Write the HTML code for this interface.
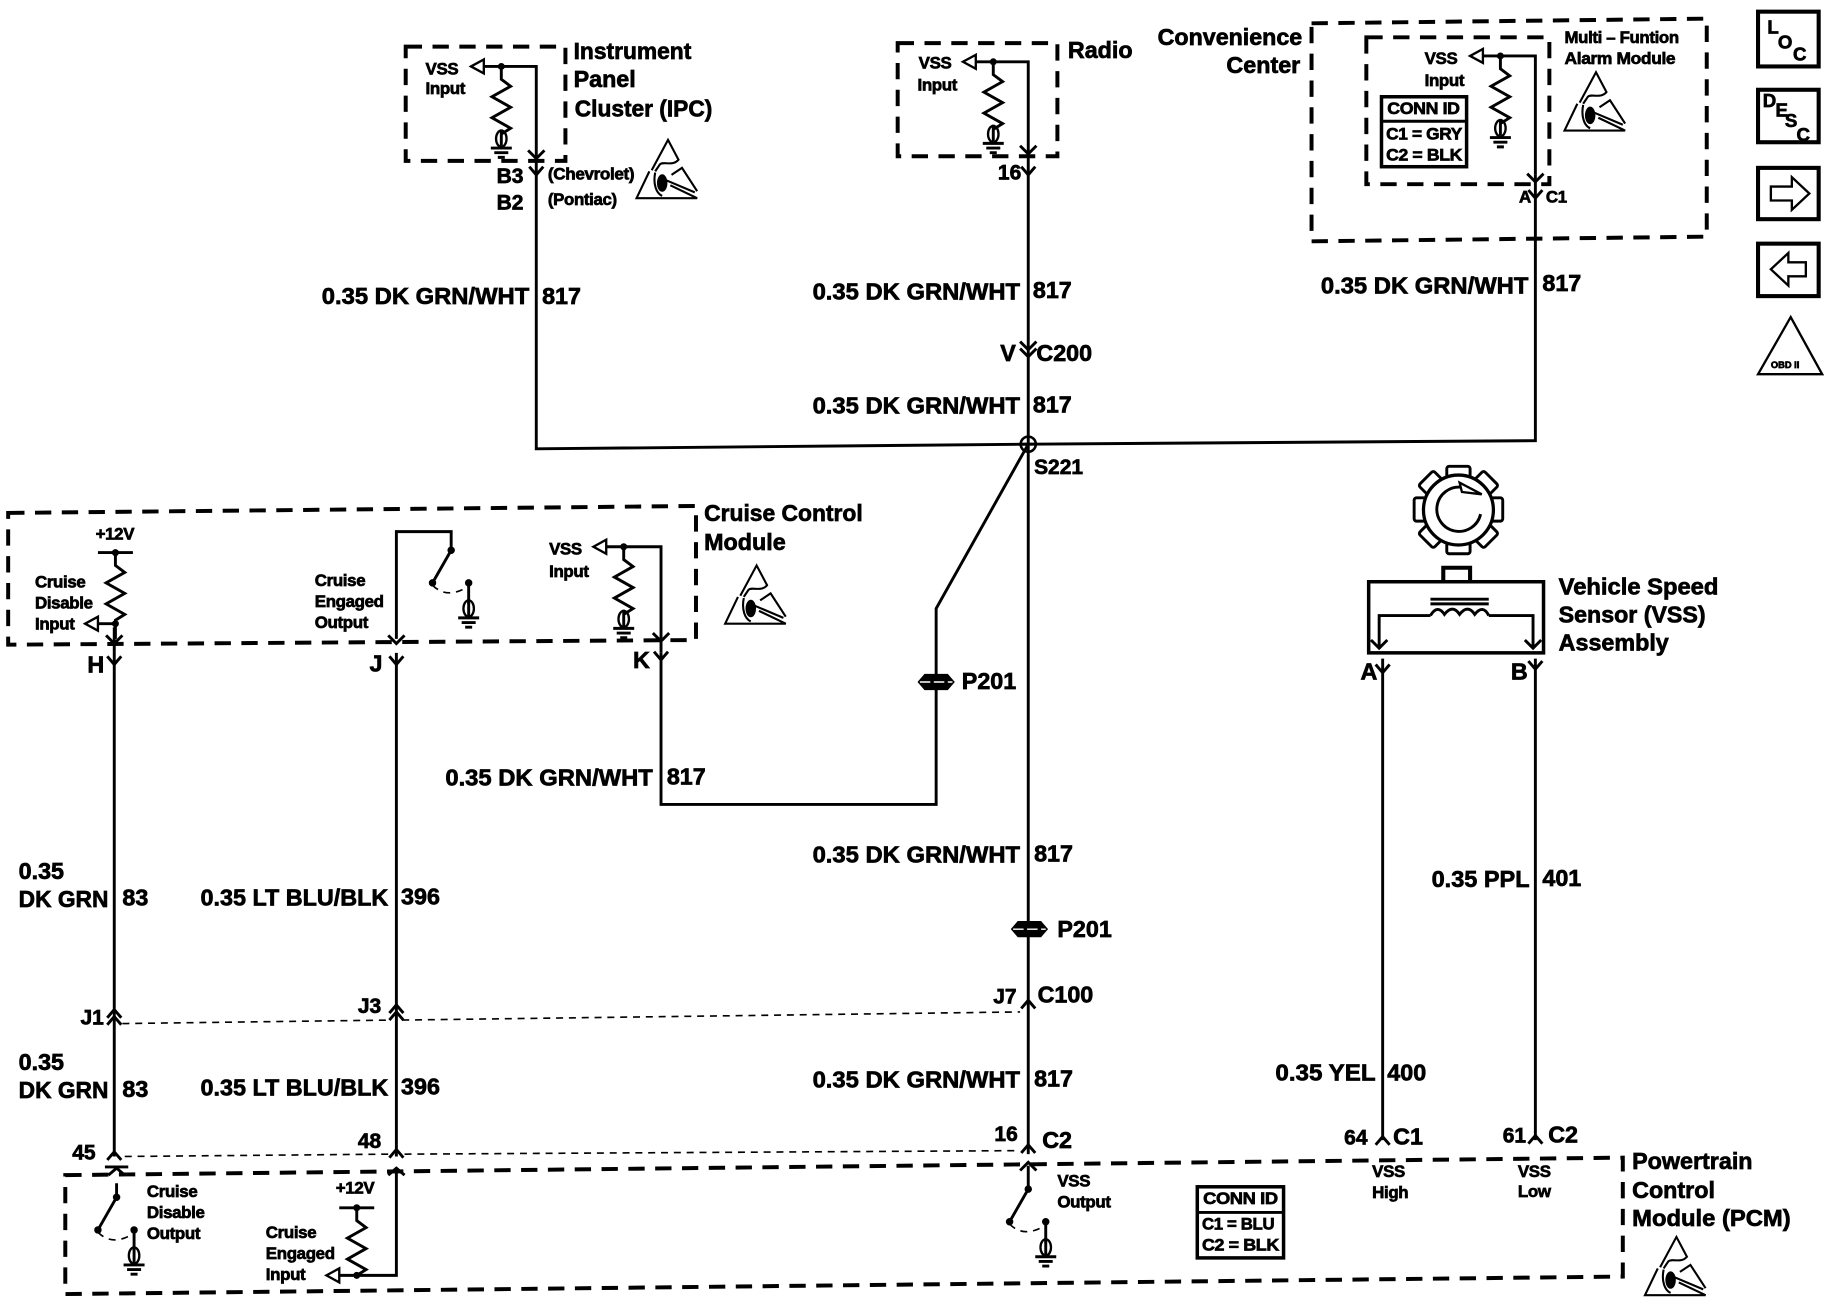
<!DOCTYPE html>
<html><head><meta charset="utf-8"><title>VSS wiring diagram</title>
<style>
html,body{margin:0;padding:0;background:#fff}
svg{display:block}
text{font-family:"Liberation Sans",sans-serif;font-weight:bold;fill:#000;stroke:#000;stroke-width:.6;transform:translateY(-1.2px)}
.a{font-size:20px}
.b{font-size:18px}
.s{font-size:14.5px;letter-spacing:-.3px}
.w{fill:none;stroke:#000;stroke-width:2.5}
.d{fill:none;stroke:#000;stroke-width:3.4;stroke-dasharray:14 9}
.t{fill:none;stroke:#000;stroke-width:1.4;stroke-dasharray:6 5}
.i{fill:none;stroke:#000;stroke-width:3.5}
</style></head>
<body>
<svg xmlns="http://www.w3.org/2000/svg" width="1828" height="1312" viewBox="0 0 1568 1125.4">
<defs>
<g id="gnd"><path class="w" d="M0,-14V0"/><ellipse cx="0" cy="-6" rx="4.5" ry="7" fill="none" stroke="#000" stroke-width="2"/><path class="w" d="M-9,2H9M-6,6H6M-3,10H3"/></g>
<g id="rg"><circle r="3"/><path class="w" d="M0,0V11L8,17L-8,26L8,35L-8,44L8,53L0,58"/><use href="#gnd" x="0" y="68"/></g>
<g id="ta"><path d="M-26,0L-15,-6V6Z" fill="#fff" stroke="#000" stroke-width="2"/><path class="w" d="M-15,0H0"/></g>
<g id="chev"><path class="w" d="M-7,-7L0,0L7,-7"/></g>
<g id="y"><path class="w" d="M-6,-7L0,0L6,-7"/></g>
<g id="up"><path class="w" d="M-6,7L0,0L6,7"/></g>
<g id="sw"><circle r="3.2"/><path class="w" d="M0,0L-16,28"/><circle cx="-16" cy="28" r="3.2"/><circle cx="15" cy="28" r="3.2"/><path class="t" stroke-dasharray="2 4" d="M-16,30Q-4,42 13,32"/><path class="w" d="M15,28V46"/><use href="#gnd" x="15" y="56"/></g>
<g id="esd"><path d="M13,26L27,0L36,17C31,23 23,18 20,21L16,27M11,27L0,50H52L29,39M30,30L39,24L52,44M24,34L50,45M16,28C14,38 17,46 22,48" fill="none" stroke="#000" stroke-width="1.8"/><ellipse cx="22" cy="37" rx="4.5" ry="7.5"/></g>
<g id="pz"><path d="M-16,0L-10,-7H10L16,0L10,7H-10Z"/><path d="M-14,0H14" stroke="#fff" stroke-width="1.2" stroke-dasharray="9 3"/></g>
</defs>

<!-- main wires -->
<path class="w" d="M430,57H460V385L882,381L1317,378V150H1317"/>
<path class="w" d="M852,53H882V990"/>
<path class="w" d="M882,381L803,522V690H567V560"/>
<path class="w" d="M1287,48H1317V150"/>
<path class="w" d="M98,538V992"/>
<path class="w" d="M340,548V456H387V472"/>
<path class="w" d="M340,560V992"/>
<path class="w" d="M535,469H567V560"/>
<path class="w" d="M1186,565V978M1317,565V978"/>
<path class="w" d="M1183,556V528H1227M1277,528H1315V556"/>
<path class="w" d="M100,1015V1027M882,1000V1018"/>

<!-- dashed boxes -->
<path class="d" d="M348,40H485V138H348Z"/>
<path class="d" d="M770,37H907V134H770Z"/>
<path class="d" d="M1125,20L1464,16V203L1125,207Z"/>
<path class="d" d="M1172,32H1329V158H1172Z"/>
<path class="d" d="M7,440L597,434V549L7,553Z"/>
<path class="d" d="M56,1008L1392,993V1095L56,1110Z"/>

<!-- dotted cross links -->
<path class="t" d="M105,878L335,875M345,875L875,868"/>
<path class="t" d="M107,992L333,990M347,990L873,987"/>

<!-- resistors / grounds -->
<use href="#rg" x="430" y="57"/><use href="#ta" x="430" y="57"/>
<use href="#rg" x="852" y="53"/><use href="#ta" x="852" y="53"/>
<use href="#rg" x="1287" y="48"/><use href="#ta" x="1287" y="48"/>
<use href="#rg" x="535" y="469"/><use href="#ta" x="535" y="469"/>
<circle cx="99" cy="474" r="3"/><path class="w" d="M84,474H114M99,474V485L107,491L91,500L107,509L91,518L107,527L99,532V548"/>
<circle cx="99" cy="535" r="3"/><use href="#ta" x="99" y="535"/>
<circle cx="306" cy="1036" r="3"/><path class="w" d="M291,1036H321M306,1036V1047L314,1053L298,1062L314,1071L298,1080L314,1089L306,1094"/>
<circle cx="306" cy="1094" r="3"/><use href="#ta" x="306" y="1094"/>
<path class="w" d="M306,1094H340V1006"/>
<use href="#sw" x="387" y="472"/>
<use href="#sw" x="100" y="1027"/>
<use href="#sw" x="882" y="1020"/>

<!-- arrow chevrons inside boxes -->
<use href="#chev" x="460" y="136"/><use href="#chev" x="882" y="132"/><use href="#chev" x="1317" y="156"/>
<use href="#chev" x="98" y="552"/><use href="#chev" x="340" y="552"/><use href="#chev" x="567" y="550"/>
<use href="#chev" x="1183" y="556"/><use href="#chev" x="1315" y="556"/>
<path class="w" d="M93,1008L100,1002L107,1008M90,1001H110M333,1008L340,1002L347,1008M875,1004L882,997L889,1004"/>

<!-- connector Y -->
<use href="#y" x="460" y="150"/><use href="#y" x="882" y="150"/><use href="#y" x="1317" y="170"/>
<use href="#y" x="98" y="570"/><use href="#y" x="340" y="570"/><use href="#y" x="567" y="566"/>
<use href="#y" x="1186" y="577"/><use href="#y" x="1317" y="574"/>
<use href="#chev" x="882" y="300"/><use href="#chev" x="882" y="306"/>
<use href="#up" x="98" y="866"/><use href="#up" x="98" y="872"/><use href="#up" x="340" y="862"/><use href="#up" x="340" y="868"/><use href="#up" x="882" y="858"/>
<use href="#up" x="98" y="988"/><use href="#up" x="340" y="986"/><use href="#up" x="882" y="982"/><use href="#up" x="1186" y="975"/><use href="#up" x="1317" y="974"/>

<!-- splice & inline connectors -->
<circle cx="882" cy="381" r="6.5" fill="none" stroke="#000" stroke-width="2.2"/><path class="w" d="M875,381H889"/>
<use href="#pz" x="803" y="585"/>
<use href="#pz" x="883" y="797"/>

<!-- VSS assembly -->
<rect x="1174" y="499" width="150" height="61" fill="none" stroke="#000" stroke-width="3"/>
<path class="i" d="M1238,498V487H1261V498"/>
<path class="w" d="M1227,514H1277M1227,518H1277"/>
<path class="w" d="M1227,528Q1233,518 1239,527Q1246,518 1252,527Q1259,518 1265,527Q1272,518 1277,528"/>
<g fill="#fff" stroke="#000" stroke-width="2.5">
<rect x="1241" y="400" width="20" height="14" rx="2"/><rect x="1241" y="461" width="20" height="14" rx="2"/>
<rect x="1213" y="427" width="14" height="20" rx="2"/><rect x="1275" y="427" width="14" height="20" rx="2"/>
<rect x="1219" y="408" width="18" height="14" rx="2" transform="rotate(-45 1228 415)"/><rect x="1265" y="408" width="18" height="14" rx="2" transform="rotate(45 1274 415)"/>
<rect x="1219" y="452" width="18" height="14" rx="2" transform="rotate(45 1228 459)"/><rect x="1265" y="452" width="18" height="14" rx="2" transform="rotate(-45 1274 459)"/>
</g>
<circle cx="1251" cy="437.5" r="30" fill="#fff" stroke="#000" stroke-width="2.8"/>
<path class="w" d="M1270,441A19,19 0 1 1 1254,418"/>
<path d="M1252,414L1271,424L1254,422Z" fill="#fff" stroke="#000" stroke-width="2"/>

<!-- ESD -->
<use href="#esd" x="546" y="120"/>
<use href="#esd" x="1342" y="62"/>
<use href="#esd" x="622" y="485"/>
<use href="#esd" x="1411" y="1061"/>

<!-- conn id boxes -->
<rect x="1185" y="83" width="73" height="60" fill="none" stroke="#000" stroke-width="3"/><path class="w" d="M1185,104H1258"/>
<rect x="1027" y="1018" width="74" height="61" fill="none" stroke="#000" stroke-width="3"/><path class="w" d="M1027,1040H1101"/>

<!-- right icons -->
<rect x="1508" y="10" width="52" height="47" class="i"/>
<rect x="1508" y="77" width="52" height="45" class="i"/>
<rect x="1508" y="144" width="52" height="44" class="i"/>
<rect x="1508" y="209" width="52" height="45" class="i"/>
<path d="M1519,160H1537V152L1552,166L1537,180V172H1519Z" fill="none" stroke="#000" stroke-width="2"/>
<path d="M1549,225H1534V217L1519,231L1534,245V237H1549Z" fill="none" stroke="#000" stroke-width="2"/>
<path d="M1536,272L1563,321H1508Z" fill="none" stroke="#000" stroke-width="2"/>
<text x="1516" y="30" style="font-size:16px">L</text>
<text x="1525" y="43" style="font-size:16px">O</text>
<text x="1538" y="53" style="font-size:16px">C</text>
<text x="1512" y="93" style="font-size:16px">D</text>
<text x="1523" y="101" style="font-size:16px">E</text>
<text x="1531" y="110" style="font-size:16px">S</text>
<text x="1541" y="122" style="font-size:16px">C</text>
<text x="1519" y="317" style="font-size:8px">OBD II</text>

<!-- IPC -->
<text class="a" x="492" y="52" textLength="101" lengthAdjust="spacingAndGlyphs">Instrument</text>
<text class="a" x="492" y="76">Panel</text>
<text class="a" x="493" y="101" textLength="118" lengthAdjust="spacingAndGlyphs">Cluster (IPC)</text>
<text class="s" x="365" y="65">VSS</text><text class="s" x="365" y="82">Input</text>
<text class="b" x="426" y="158">B3</text><text class="b" x="426" y="181">B2</text>
<text class="s" x="470" y="155" textLength="74" lengthAdjust="spacingAndGlyphs">(Chevrolet)</text>
<text class="s" x="470" y="177" textLength="59" lengthAdjust="spacingAndGlyphs">(Pontiac)</text>
<!-- Radio -->
<text class="a" x="916" y="51">Radio</text>
<text class="s" x="788" y="60">VSS</text><text class="s" x="787" y="79">Input</text>
<text class="b" x="856" y="155">16</text>
<!-- Convenience -->
<text class="a" x="993" y="40" textLength="124" lengthAdjust="spacingAndGlyphs">Convenience</text>
<text class="a" x="1052" y="64">Center</text>
<text class="s" x="1342" y="38" textLength="98" lengthAdjust="spacingAndGlyphs">Multi – Funtion</text>
<text class="s" x="1342" y="56" textLength="95" lengthAdjust="spacingAndGlyphs">Alarm Module</text>
<text class="s" x="1222" y="56">VSS</text><text class="s" x="1222" y="75">Input</text>
<text class="s" x="1190" y="99" textLength="62" lengthAdjust="spacingAndGlyphs">CONN ID</text>
<text class="s" x="1189" y="121" textLength="65" lengthAdjust="spacingAndGlyphs">C1 = GRY</text>
<text class="s" x="1189" y="139" textLength="65" lengthAdjust="spacingAndGlyphs">C2 = BLK</text>
<text class="s" x="1303" y="175">A</text><text class="s" x="1326" y="175">C1</text>

<!-- wire labels -->
<text class="a" x="276" y="262" textLength="178" lengthAdjust="spacingAndGlyphs">0.35 DK GRN/WHT</text><text class="a" x="465" y="262">817</text>
<text class="a" x="697" y="258" textLength="178" lengthAdjust="spacingAndGlyphs">0.35 DK GRN/WHT</text><text class="a" x="886" y="257">817</text>
<text class="a" x="1133" y="253" textLength="178" lengthAdjust="spacingAndGlyphs">0.35 DK GRN/WHT</text><text class="a" x="1323" y="251">817</text>
<text class="a" x="697" y="356" textLength="178" lengthAdjust="spacingAndGlyphs">0.35 DK GRN/WHT</text><text class="a" x="886" y="355">817</text>
<text class="a" x="858" y="311">V</text><text class="a" x="889" y="311">C200</text>
<text class="b" x="887" y="408">S221</text>
<text class="a" x="825" y="592">P201</text>
<text class="a" x="382" y="675" textLength="178" lengthAdjust="spacingAndGlyphs">0.35 DK GRN/WHT</text><text class="a" x="572" y="674">817</text>
<text class="a" x="697" y="741" textLength="178" lengthAdjust="spacingAndGlyphs">0.35 DK GRN/WHT</text><text class="a" x="887" y="740">817</text>
<text class="a" x="907" y="805">P201</text>
<text class="a" x="697" y="934" textLength="178" lengthAdjust="spacingAndGlyphs">0.35 DK GRN/WHT</text><text class="a" x="887" y="933">817</text>
<text class="a" x="16" y="755">0.35</text><text class="a" x="16" y="779" textLength="77" lengthAdjust="spacingAndGlyphs">DK GRN</text><text class="a" x="105" y="778">83</text>
<text class="a" x="16" y="919">0.35</text><text class="a" x="16" y="943" textLength="77" lengthAdjust="spacingAndGlyphs">DK GRN</text><text class="a" x="105" y="942">83</text>
<text class="a" x="172" y="778" textLength="161" lengthAdjust="spacingAndGlyphs">0.35 LT BLU/BLK</text><text class="a" x="344" y="777">396</text>
<text class="a" x="172" y="941" textLength="161" lengthAdjust="spacingAndGlyphs">0.35 LT BLU/BLK</text><text class="a" x="344" y="940">396</text>
<text class="a" x="1228" y="762" textLength="84" lengthAdjust="spacingAndGlyphs">0.35 PPL</text><text class="a" x="1323" y="761">401</text>
<text class="a" x="1094" y="928" textLength="86" lengthAdjust="spacingAndGlyphs">0.35 YEL</text><text class="a" x="1190" y="928">400</text>

<!-- cruise module -->
<text class="a" x="604" y="448" textLength="136" lengthAdjust="spacingAndGlyphs">Cruise Control</text>
<text class="a" x="604" y="473">Module</text>
<text class="s" x="82" y="464">+12V</text>
<text class="s" x="30" y="505">Cruise</text><text class="s" x="30" y="523">Disable</text><text class="s" x="30" y="541">Input</text>
<text class="s" x="270" y="504">Cruise</text><text class="s" x="270" y="522">Engaged</text><text class="s" x="270" y="540">Output</text>
<text class="s" x="471" y="477">VSS</text><text class="s" x="471" y="496">Input</text>
<text class="a" x="75" y="578">H</text><text class="a" x="317" y="577">J</text><text class="a" x="543" y="574">K</text>

<!-- C100 -->
<text class="b" x="69" y="880">J1</text><text class="b" x="307" y="870">J3</text><text class="b" x="852" y="862">J7</text><text class="a" x="890" y="861">C100</text>
<text class="b" x="62" y="996">45</text><text class="b" x="307" y="986">48</text><text class="b" x="853" y="980">16</text><text class="a" x="894" y="986">C2</text>
<text class="b" x="1153" y="983">64</text><text class="a" x="1195" y="983">C1</text><text class="b" x="1289" y="981">61</text><text class="a" x="1328" y="981">C2</text>

<!-- VSS -->
<text class="a" x="1337" y="511" textLength="137" lengthAdjust="spacingAndGlyphs">Vehicle Speed</text>
<text class="a" x="1337" y="535" textLength="126" lengthAdjust="spacingAndGlyphs">Sensor (VSS)</text>
<text class="a" x="1337" y="559">Assembly</text>
<text class="a" x="1167" y="584">A</text><text class="a" x="1296" y="584">B</text>

<!-- PCM -->
<text class="a" x="1400" y="1004">Powertrain</text>
<text class="a" x="1400" y="1029">Control</text>
<text class="a" x="1400" y="1053" textLength="136" lengthAdjust="spacingAndGlyphs">Module (PCM)</text>
<text class="s" x="1177" y="1011">VSS</text><text class="s" x="1177" y="1029">High</text>
<text class="s" x="1302" y="1011">VSS</text><text class="s" x="1302" y="1028">Low</text>
<text class="s" x="1032" y="1034" textLength="64" lengthAdjust="spacingAndGlyphs">CONN ID</text>
<text class="s" x="1031" y="1056" textLength="62" lengthAdjust="spacingAndGlyphs">C1 = BLU</text>
<text class="s" x="1031" y="1074" textLength="66" lengthAdjust="spacingAndGlyphs">C2 = BLK</text>
<text class="s" x="907" y="1019">VSS</text><text class="s" x="907" y="1037">Output</text>
<text class="s" x="126" y="1028">Cruise</text><text class="s" x="126" y="1046">Disable</text><text class="s" x="126" y="1064">Output</text>
<text class="s" x="288" y="1025">+12V</text>
<text class="s" x="228" y="1063">Cruise</text><text class="s" x="228" y="1081">Engaged</text><text class="s" x="228" y="1099">Input</text>
</svg>
</body></html>
